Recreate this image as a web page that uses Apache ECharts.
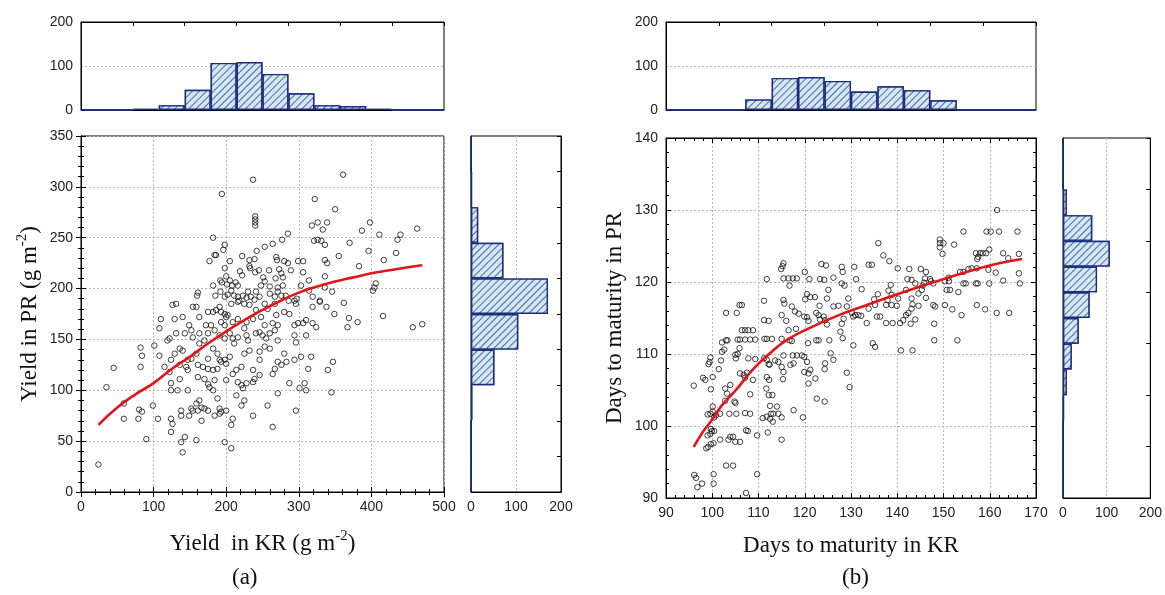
<!DOCTYPE html>
<html><head><meta charset="utf-8">
<script src="https://cdn.jsdelivr.net/npm/echarts@6/dist/echarts.min.js"></script>
<style>html,body{margin:0;padding:0;background:#fff}#c{width:1165px;height:595px}</style>
</head><body><div id="c"></div>
<script>
// ---------- Panel (a): yield ----------
const scatterA = [
[24,27],[35,103],[45,122],[59,87],[59,72],[79,72],[80,81],[84,79],[82,123],[82,142],[84,134],[90,52],
[361,312],[362,186],[367,162],[369,171],[370,245],[381,167],[383,222],[387,257],[396,237],[398,265],[402,198],[404,201],[406,205],[411,253],[416,173],[417,228],[434,235],[436,248],[440,253],[457,162],[463,259],[470,165],
[126,184],[131,185],[154,182],[159,182],[175,177],[182,177],[186,179],[191,182],[193,177],[198,175],[202,174],[207,185],[216,187],[225,185],[232,184],[241,179],[253,185],[257,180],[267,185],[269,174],[280,177],[294,188],[296,185],[319,182],[329,187],[338,182],[349,175],
[110,170],[129,170],[140,172],[149,164],[163,172],[172,164],[179,164],[193,167],[198,164],[200,172],[209,167],[216,170],[228,167],[237,170],[248,172],[253,164],[264,166],[271,164],[287,175],[294,164],[299,166],[306,166],[310,169],[319,166],
[108,161],[131,156],[143,156],[152,159],[154,152],[163,156],[170,149],[175,156],[184,159],[191,154],[198,151],[205,156],[209,151],[216,152],[225,161],[228,154],[230,149],[241,156],[246,157],[250,154],[255,151],[260,156],[267,159],[271,149],[294,154],[296,147],[310,154],[324,162],[122,151],[101,144],
[119,149],[129,136],[136,141],[140,139],[147,130],[152,131],[159,136],[163,146],[175,131],[182,141],[188,136],[191,130],[198,130],[205,133],[211,146],[225,136],[232,139],[246,138],[253,143],[260,141],[246,130],[271,128],[280,136],[283,128],[294,130],[303,133],[317,133],[347,128],[108,134],[124,130],
[115,123],[122,118],[136,125],[145,123],[147,120],[161,125],[168,123],[175,121],[182,120],[188,121],[193,128],[200,126],[209,116],[214,120],[221,123],[237,120],[246,115],[264,116],[267,121],[276,125],[313,121],[340,120],[136,111],
[124,107],[133,100],[147,100],[161,113],[170,111],[175,106],[177,103],[182,100],[184,110],[200,110],[216,108],[221,105],[228,107],[223,102],[239,111],[237,108],[271,97],[287,107],[301,102],[308,107],[310,100],[345,98],[124,100],
[99,85],[138,80],[152,82],[154,80],[159,87],[163,90],[166,83],[170,82],[175,80],[188,92],[191,82],[193,79],[200,80],[214,95],[221,85],[225,90],[237,75],[257,85],[296,80],[149,75],[161,80],
[106,72],[124,72],[126,67],[138,75],[166,70],[184,75],[191,77],[209,72],[207,66],[264,64],[124,59],[143,54],[159,51],[138,49],[140,39],[198,49],[207,43],
[237,307],[194,293],[322,288],[350,278],[240,271],[240,268],[240,265],[240,262],[182,250],[318,262],[326,265],[339,265],[333,258],[285,254],[277,248],[321,247],[326,248],[331,247],[336,243],[253,241],[264,244],[198,243],[196,238],[184,233],[186,233],[222,232],[242,237],[239,229],[232,228],[205,227],[177,227],[269,231],[270,228],[280,227],[285,225],[299,227],[306,227],[336,228],[339,225],[232,222],[233,220],[245,218],[240,216],[198,220],[200,212],[192,208],[219,217],[222,213],[259,218],[273,219],[276,215],[278,211],[289,218],[306,216],[336,212],[314,208],[355,232],[205,208],[213,206],[216,203],[208,203],[201,204],[194,206],[251,211],[253,207],[248,203],[260,202],[268,210],[271,201],[182,203],[192,197],[185,193],[198,192],[202,194],[207,198],[211,193],[216,192],[218,188],[223,193],[230,197],[228,191],[234,192],[241,197],[239,189],[246,192],[260,195],[267,192],[271,197],[276,193],[278,203],[282,193],[286,188],[297,190],[303,203],[314,198],[319,192],[329,188],[336,201],[346,197],[161,196],[160,193]
];
const curveA = [[24,66],[50,83],[75,96],[100,107],[125,121],[150,133],[175,146],[200,158],[225,169],[250,179],[275,188],[300,196],[325,202],[350,207],[375,211],[400,215],[425,218],[450,221],[470,223]];
const binsTopA = ['0-36','36-71','71-107','107-143','143-179','179-214','214-250','250-286','286-321','321-357','357-393','393-429','429-464','464-500'];
const countsTopA = [0,0,3,11,46,107,109,82,38,11,9,3,0,0];
const binsRightA = ['0-35','35-70','70-105','105-140','140-175','175-210','210-245','245-280','280-315','315-350'];
const countsRightA = [0,0,3,52,105,171,72,16,2,0];

// ---------- Panel (b): days to maturity ----------
const scatterB = [
[96.0,105.6],[96.1,93.2],[96.5,92.8],[96.8,91.5],[97.8,92.0],[98.0,106.7],[98.5,106.4],[99.6,109.5],[99.4,108.9],[99.2,108.6],[100.1,106.8],[99.7,105.1],[99.0,101.6],[99.6,101.7],[100.1,102.7],[100.1,102.0],[100.8,101.5],[100.4,101.2],[101.7,101.7],[99.7,99.6],[99.9,99.3],[100.4,99.3],[99.0,98.7],[99.6,98.9],[98.7,96.9],[99.1,97.1],[99.7,97.5],[100.3,97.6],[100.3,93.3],[100.3,92.0],[101.4,107.9],[101.9,109.1],[101.7,98.1],[102.1,110.3],[102.6,110.6],[102.1,111.6],[103.0,111.9],[103.3,111.9],[103.0,115.7],[102.8,105.2],[103.2,104.5],[102.8,103.5],[103.7,101.7],[103.9,105.7],[103.5,98.1],[103.9,98.5],[104.5,98.5],[105.0,97.8],[106.0,97.8],[103.0,94.5],[104.5,94.5],[105.0,103.2],[104.8,103.4],[105.2,101.7],[105.0,109.9],[105.1,109.4],[105.5,110.0],[105.5,112.0],[105.3,115.7],[105.9,116.8],[106.4,116.8],[106.4,113.3],[107.1,113.3],[107.8,113.3],[108.8,113.3],[106.0,112.0],[107.1,112.0],[108.2,112.0],[109.3,112.0],[105.9,110.8],[106.0,107.3],[106.8,107.1],[107.5,107.4],[107.1,106.7],[107.8,109.4],[109.3,109.3],[108.2,104.4],[107.1,101.8],[108.2,101.7],[107.3,99.4],[107.7,99.3],[108.8,106.4],[109.7,98.7],[109.7,93.3],[111.3,112.1],[111.8,112.1],[112.9,112.1],[115.0,112.1],[111.2,114.7],[112.2,114.6],[111.2,117.4],[111.8,120.4],[111.2,109.4],[111.8,109.2],[112.2,108.6],[112.4,108.5],[111.8,106.8],[112.3,106.4],[111.7,105.2],[112.2,104.3],[113.0,104.3],[110.9,101.1],[111.8,101.3],[112.5,101.0],[112.7,101.7],[113.2,101.7],[112.5,102.8],[114.0,102.7],[114.3,101.7],[113.1,100.6],[112.0,99.1],[115.0,101.2],[115.0,98.1],[113.6,109.1],[114.3,108.9],[115.0,108.2],[115.4,107.5],[115.3,106.5],[115.2,122.2],[115.4,122.6],[114.9,121.8],[115.4,120.5],[116.5,120.5],[117.4,120.5],[118.3,120.5],[116.7,119.5],[115.4,117.5],[115.6,117.0],[115.0,115.4],[116.0,114.6],[117.2,116.6],[117.9,115.9],[118.7,115.6],[116.5,113.3],[118.1,113.5],[116.7,111.9],[117.2,111.8],[115.4,109.8],[117.4,109.8],[118.3,109.8],[119.4,109.8],[119.9,109.6],[116.9,108.5],[117.6,108.7],[117.6,102.2],[119.6,101.2],[120.0,121.4],[120.1,117.6],[120.5,118.3],[120.8,114.6],[119.9,115.2],[120.5,115.1],[120.7,111.5],[119.9,107.5],[120.8,107.3],[120.5,108.9],[120.8,105.9],[107.3,90.7],
[161.6,130.0],[154.3,127.0],[159.3,127.0],[160.2,127.0],[162.0,127.0],[166.0,127.0],[149.2,125.9],[149.2,125.4],[150.0,125.4],[149.2,124.8],[149.8,123.9],[152.3,125.2],[135.9,125.4],[157.0,124.0],[157.9,124.0],[158.5,124.0],[159.2,124.0],[157.5,123.5],[159.9,124.5],[157.3,123.2],[162.9,124.0],[164.0,123.3],[166.3,123.9],[137.0,123.7],[138.3,122.9],[123.6,122.5],[124.6,122.3],[128.0,122.1],[128.2,121.4],[130.7,122.1],[133.8,122.4],[134.5,122.4],[140.1,121.9],[142.6,121.8],[145.1,121.8],[146.2,121.4],[121.0,120.4],[123.3,120.4],[124.2,120.3],[126.2,120.6],[131.1,120.4],[128.0,119.8],[128.6,119.5],[142.2,120.4],[143.1,120.3],[143.9,119.8],[146.0,120.5],[145.8,119.9],[147.1,120.4],[147.3,120.1],[147.8,119.8],[145.5,119.5],[145.3,118.9],[150.3,120.1],[151.2,120.1],[151.1,120.6],[153.6,121.4],[154.3,121.4],[155.4,121.8],[156.1,121.9],[157.2,121.9],[159.7,121.7],[161.3,121.3],[154.3,119.8],[154.8,119.8],[157.0,119.8],[157.4,119.8],[159.9,119.8],[162.9,120.2],[166.5,119.8],[166.3,121.2],[150.7,118.9],[151.4,118.9],[153.2,118.6],[138.6,119.6],[138.1,118.8],[138.8,118.2],[141.9,118.9],[125.1,118.9],[132.3,119.0],[121.2,117.9],[122.2,117.9],[124.8,117.7],[129.4,117.7],[135.8,118.3],[135.0,117.6],[137.9,117.5],[140.2,117.7],[143.1,117.7],[144.6,118.4],[146.2,117.8],[123.2,116.7],[126.2,116.6],[127.3,116.7],[129.1,116.6],[122.5,115.7],[123.0,115.4],[123.3,114.8],[124.1,115.2],[124.4,114.7],[124.8,114.1],[128.4,114.9],[130.2,115.7],[130.5,115.2],[130.9,115.4],[131.6,115.4],[133.8,116.3],[135.2,116.8],[132.2,115.3],[133.4,114.3],[135.6,115.2],[136.3,115.2],[137.6,114.3],[139.0,114.3],[137.6,116.8],[138.8,116.8],[139.9,116.7],[140.6,114.3],[141.3,114.7],[141.9,115.4],[142.4,115.7],[143.1,116.3],[143.3,116.9],[143.9,114.8],[142.9,114.2],[144.6,116.7],[147.8,116.8],[148.2,116.6],[148.0,114.2],[150.3,116.8],[151.9,116.2],[153.9,115.4],[157.2,116.8],[159.0,116.2],[161.5,115.7],[164.2,115.7],[128.0,114.2],[127.7,113.1],[128.2,112.2],[122.5,111.9],[123.0,111.9],[125.3,111.9],[130.5,111.2],[134.7,111.5],[135.2,111.0],[148.0,111.9],[153.0,111.9],
[140.8,110.5],[143.3,110.5],[129.7,105.4],[129.1,107.4],[124.3,103.4],[122.6,103.8],[122.3,106.6],[121.2,107.8],[124.4,108.7],[126.2,109.2],[125.6,110.1],[124.3,107.9]
];
const curveB = [[96,97.1],[98,99.2],[100,100.9],[102,102.8],[105,104.9],[109,108],[112.5,110.1],[116,111.9],[121,113.6],[127,115.3],[133,116.7],[140,118.3],[148,120],[155,121.4],[162,122.6],[167,123.2]];
const binsTopB = ['90-95.7','95.7-101.4','101.4-107.1','107.1-112.9','112.9-118.6','118.6-124.3','124.3-130','130-135.7','135.7-141.4','141.4-147.1','147.1-152.9','152.9-158.6','158.6-164.3','164.3-170'];
const countsTopB = [0,0,0,24,73,75,66,42,54,45,22,0,0,0];
const binsRightB = ['90-93.6','93.6-97.1','97.1-100.7','100.7-104.3','104.3-107.9','107.9-111.4','111.4-115','115-118.6','118.6-122.1','122.1-125.7','125.7-129.3','129.3-132.9','132.9-136.4','136.4-140'];
const countsRightB = [0,0,0,2,9,20,36,61,78,107,67,9,0,0];

// ---------- styles ----------
const LBL = {fontFamily:'Liberation Sans, Arial', fontSize:14, color:'#222'};
const SERIF = 'Liberation Serif, Times New Roman';
const dotted = {show:true, lineStyle:{color:'#b8b8b8', type:[2,2], width:1}};
const hatch = {
  color:'#d4e7f3', borderColor:'#1b2d7c', borderWidth:1.4,
  decal:{symbol:'rect', symbolSize:1, dashArrayX:[1,0], dashArrayY:[1,3.2], rotation:-Math.PI/4, color:'#4a6aa8', backgroundColor:'#d4e7f3'}
};
const blackLine = {show:true, lineStyle:{color:'#000', width:1}};
function nameRich(){ return {
  t:{fontFamily:SERIF, fontSize:23, color:'#111', lineHeight:30},
  s:{fontFamily:SERIF, fontSize:15, color:'#111', lineHeight:14, verticalAlign:'top'}
};}
function valueMain(min,max,interval,minorSplit,extra){
  return Object.assign({type:'value', min, max, interval,
    axisLine:blackLine, axisTick:{show:true, inside:true, length:5, lineStyle:{color:'#000'}},
    minorTick:{show:true, splitNumber:minorSplit, length:3, lineStyle:{color:'#000'}},
    axisLabel:Object.assign({margin:8}, LBL), splitLine:dotted}, extra||{});
}
function valueMirror(min,max,interval,minorSplit,pos,gridIndex){
  return {type:'value', gridIndex, position:pos, min, max, interval,
    axisLine:blackLine, axisTick:{show:true, inside:true, length:5, lineStyle:{color:'#000'}},
    minorTick:{show:true, splitNumber:minorSplit, length:3, lineStyle:{color:'#000'}},
    axisLabel:{show:false}, splitLine:{show:false}};
}
function catAxis(data, gridIndex, pos, tickInterval, showTicks){
  return {type:'category', data, gridIndex, position:pos, boundaryGap:true,
    axisLine:blackLine, axisLabel:{show:false}, splitLine:{show:false},
    axisTick:{show:showTicks, inside:true, length:4, interval:tickInterval, lineStyle:{color:'#000'}}};
}

const option = {
  animation:false,
  backgroundColor:'#fff',
  grid:[
    {left:81, top:136, width:363, height:356, show:true, borderColor:'#000', borderWidth:1},
    {left:81, top:22, width:363, height:88, show:true, borderColor:'#000', borderWidth:1},
    {left:471, top:136, width:90, height:356, show:true, borderColor:'#000', borderWidth:1},
    {left:666, top:138, width:370, height:360, show:true, borderColor:'#000', borderWidth:1},
    {left:666, top:22, width:370, height:88, show:true, borderColor:'#000', borderWidth:1},
    {left:1063, top:138, width:89, height:360, show:true, borderColor:'#000', borderWidth:1}
  ],
  xAxis:[
    valueMain(0,500,100,5,{gridIndex:0, position:'bottom', name:'{t|Yield  in KR (g m}{s|-2}{t|)}', nameLocation:'middle', nameGap:37, nameTextStyle:{rich:nameRich()}}),
    valueMirror(0,500,100,5,'top',0),
    catAxis(binsTopA,1,'bottom',0,false),
    catAxis(binsTopA,1,'top',1,true),
    {type:'value', gridIndex:2, position:'bottom', min:0, max:200, interval:100, axisLine:blackLine,
      axisTick:{show:false}, axisLabel:Object.assign({margin:8}, LBL), splitLine:dotted},
    valueMain(90,170,10,5,{gridIndex:3, position:'bottom', name:'{t|Days to maturity in KR}', nameLocation:'middle', nameGap:33, nameTextStyle:{rich:nameRich()}}),
    valueMirror(90,170,10,5,'top',3),
    catAxis(binsTopB,4,'bottom',0,false),
    catAxis(binsTopB,4,'top',1,true),
    {type:'value', gridIndex:5, position:'bottom', min:0, max:200, interval:100, axisLine:blackLine,
      axisTick:{show:false}, axisLabel:Object.assign({margin:8}, LBL), splitLine:dotted}
  ],
  yAxis:[
    valueMain(0,350,50,5,{gridIndex:0, position:'left', name:'{t|Yield in PR (g m}{s|-2}{t|)}', nameLocation:'middle', nameGap:36, nameTextStyle:{rich:nameRich()}}),
    valueMirror(0,350,50,5,'right',0),
    {type:'value', gridIndex:1, position:'left', min:0, max:200, interval:100, axisLine:blackLine,
      axisTick:{show:false}, axisLabel:Object.assign({margin:8}, LBL), splitLine:dotted},
    catAxis(binsRightA,2,'left',0,false),
    catAxis(binsRightA,2,'right',0,true),
    valueMain(90,140,10,5,{gridIndex:3, position:'left', name:'{t|Days to maturity in PR}', nameLocation:'middle', nameGap:36, nameTextStyle:{rich:nameRich()}}),
    valueMirror(90,140,10,5,'right',3),
    {type:'value', gridIndex:4, position:'left', min:0, max:200, interval:100, axisLine:blackLine,
      axisTick:{show:false}, axisLabel:Object.assign({margin:8}, LBL), splitLine:dotted},
    catAxis(binsRightB,5,'left',0,false),
    catAxis(binsRightB,5,'right',1,true)
  ],
  series:[
    {type:'scatter', xAxisIndex:0, yAxisIndex:0, data:scatterA, symbol:'circle', symbolSize:5.5,
      itemStyle:{color:'rgba(255,255,255,0)', borderColor:'#111', borderWidth:1}, z:3},
    {type:'line', xAxisIndex:0, yAxisIndex:0, data:curveA, smooth:true, showSymbol:false,
      lineStyle:{color:'#e3151b', width:2.6}, z:5},
    {type:'bar', xAxisIndex:2, yAxisIndex:2, data:countsTopA, barCategoryGap:'0%', itemStyle:hatch},
    {type:'bar', xAxisIndex:4, yAxisIndex:3, data:countsRightA, barCategoryGap:'0%', itemStyle:hatch},
    {type:'scatter', xAxisIndex:5, yAxisIndex:5, data:scatterB, symbol:'circle', symbolSize:5.5,
      itemStyle:{color:'rgba(255,255,255,0)', borderColor:'#111', borderWidth:1}, z:3},
    {type:'line', xAxisIndex:5, yAxisIndex:5, data:curveB, smooth:true, showSymbol:false,
      lineStyle:{color:'#e3151b', width:2.6}, z:5},
    {type:'bar', xAxisIndex:7, yAxisIndex:7, data:countsTopB, barCategoryGap:'0%', itemStyle:hatch},
    {type:'bar', xAxisIndex:9, yAxisIndex:8, data:countsRightB, barCategoryGap:'0%', itemStyle:hatch}
  ],
  graphic:[
    {type:'text', left:232, top:566, style:{text:'(a)', font:'23px "Liberation Serif"', fill:'#111'}},
    {type:'text', left:842, top:566, style:{text:'(b)', font:'23px "Liberation Serif"', fill:'#111'}}
  ]
};
const chart = echarts.init(document.getElementById('c'), null, {renderer:'canvas'});
chart.setOption(option);
</script>
</body></html>
